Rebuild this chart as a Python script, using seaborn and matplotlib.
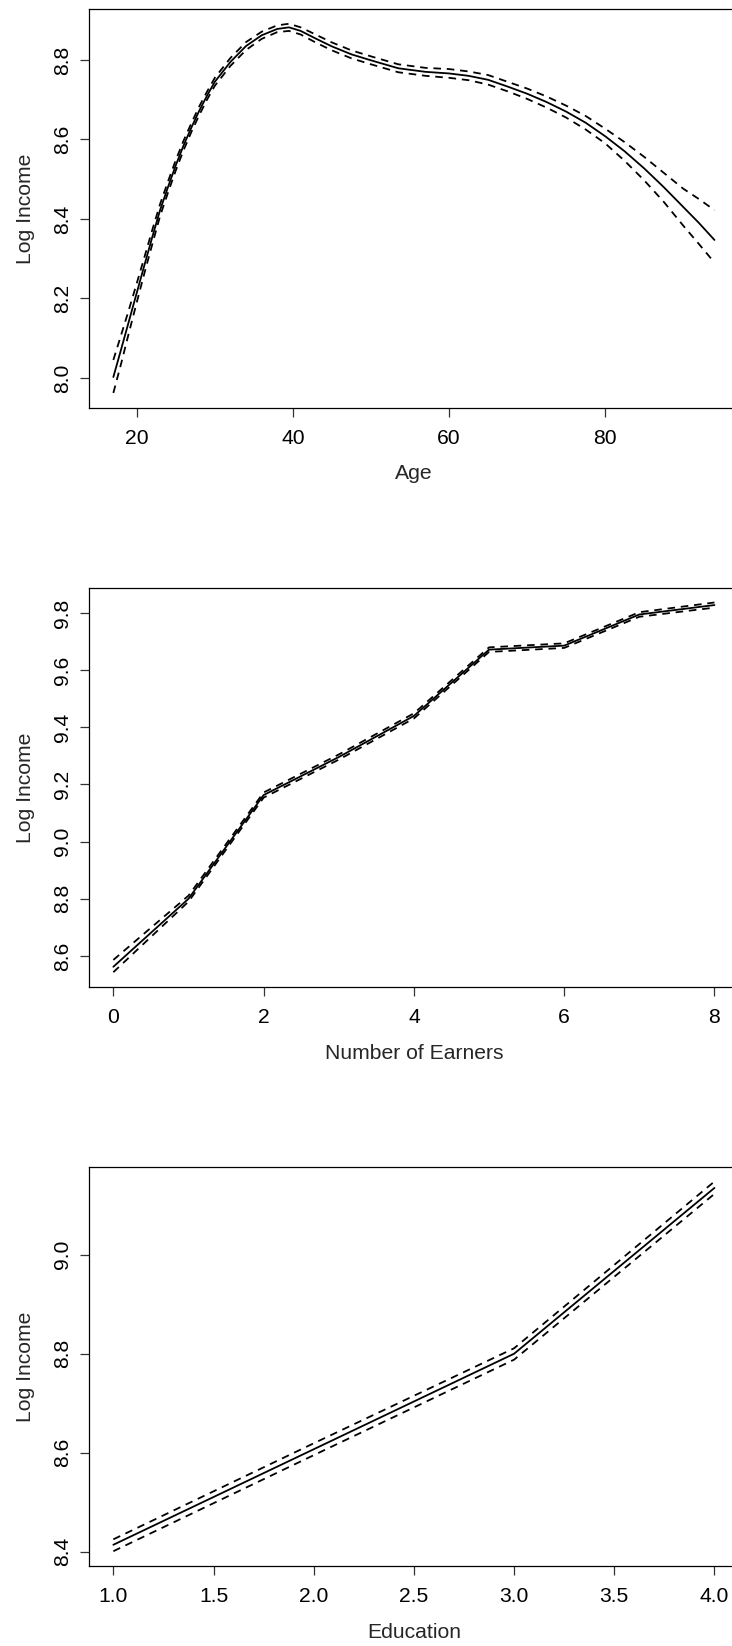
import numpy as np
import pandas as pd
import matplotlib
matplotlib.use("Agg")
import matplotlib.pyplot as plt
import seaborn as sns

# ---- Age effect ----------------------------------------------------------
age = [17, 18, 19, 20, 21, 22, 23, 24, 25, 26, 27, 28, 29, 30, 32, 34, 36,
       38, 39.5, 41, 43, 45, 47.5, 50, 53.5, 57, 60, 62.5, 65, 67.5, 70,
       72.5, 75, 77.5, 80, 82.5, 85, 87.5, 90, 92, 94]
age_fit = [8.002, 8.072, 8.143, 8.214, 8.285, 8.355, 8.423, 8.480, 8.535,
           8.585, 8.630, 8.672, 8.710, 8.745, 8.795, 8.835, 8.862, 8.878,
           8.882, 8.873, 8.853, 8.834, 8.814, 8.799, 8.779, 8.770, 8.766,
           8.760, 8.750, 8.733, 8.715, 8.694, 8.670, 8.642, 8.608, 8.570,
           8.527, 8.480, 8.430, 8.390, 8.347]
age_upper = [8.045, 8.108, 8.172, 8.238, 8.305, 8.373, 8.438, 8.494, 8.548,
             8.597, 8.641, 8.683, 8.720, 8.755, 8.805, 8.845, 8.871, 8.887,
             8.891, 8.882, 8.863, 8.844, 8.824, 8.809, 8.789, 8.780, 8.777,
             8.771, 8.762, 8.745, 8.728, 8.708, 8.685, 8.659, 8.627, 8.593,
             8.556, 8.516, 8.476, 8.450, 8.422]
age_lower = [7.962, 8.036, 8.114, 8.190, 8.265, 8.337, 8.408, 8.466, 8.522,
             8.573, 8.619, 8.661, 8.700, 8.735, 8.785, 8.825, 8.853, 8.870,
             8.873, 8.864, 8.843, 8.824, 8.804, 8.789, 8.769, 8.760, 8.755,
             8.749, 8.738, 8.721, 8.702, 8.680, 8.655, 8.625, 8.590, 8.546,
             8.497, 8.443, 8.383, 8.337, 8.290]

# ---- Number of earners effect -------------------------------------------
earners = [0, 1, 2, 3, 4, 5, 6, 7, 8]
earn_fit = [8.562, 8.800, 9.163, 9.296, 9.440, 9.672, 9.686, 9.795, 9.828]
earn_upper = [8.586, 8.811, 9.172, 9.305, 9.449, 9.680, 9.694, 9.803, 9.837]
earn_lower = [8.543, 8.790, 9.154, 9.287, 9.431, 9.664, 9.678, 9.787, 9.819]

# ---- Education effect ----------------------------------------------------
education = [1.0, 2.0, 3.0, 4.0]
edu_fit = [8.414, 8.607, 8.800, 9.135]
edu_upper = [8.425, 8.619, 8.811, 9.148]
edu_lower = [8.401, 8.595, 8.788, 9.123]

panels = [
    ("Age", age, age_fit, age_upper, age_lower,
     [20, 40, 60, 80], ["20", "40", "60", "80"],
     [8.0, 8.2, 8.4, 8.6, 8.8]),
    ("Number of Earners", earners, earn_fit, earn_upper, earn_lower,
     [0, 2, 4, 6, 8], ["0", "2", "4", "6", "8"],
     [8.6, 8.8, 9.0, 9.2, 9.4, 9.6, 9.8]),
    ("Education", education, edu_fit, edu_upper, edu_lower,
     [1.0, 1.5, 2.0, 2.5, 3.0, 3.5, 4.0],
     ["1.0", "1.5", "2.0", "2.5", "3.0", "3.5", "4.0"],
     [8.4, 8.6, 8.8, 9.0]),
]

sns.set_theme(style="ticks")
plt.rcParams["font.family"] = ["Liberation Sans", "DejaVu Sans"]
plt.rcParams["axes.linewidth"] = 0.9

FS = 15.2
W, H = 732, 1646
fig = plt.figure(figsize=(W / 100, H / 100), dpi=100)

# panel boxes in pixels: (top, bottom); left edge shared, right edge past the canvas
boxes = [(9.0, 407.7), (587.7, 987.0), (1166.7, 1566.0)]
left_px, right_px = 89.3, 738.5

for (xlabel, xs, fit, up, lo, xt, xtl, yt), (top, bot) in zip(panels, boxes):
    ax = fig.add_axes([left_px / W, 1 - bot / H,
                       (right_px - left_px) / W, (bot - top) / H])
    df = pd.DataFrame({
        "x": list(xs) * 3,
        "y": list(fit) + list(up) + list(lo),
        "band": ["fit"] * len(xs) + ["upper"] * len(xs) + ["lower"] * len(xs),
    })
    sns.lineplot(data=df, x="x", y="y", style="band",
                 dashes={"fit": "", "upper": (4.2, 3.2), "lower": (4.2, 3.2)},
                 color="black", lw=1.3, legend=False, ax=ax,
                 estimator=None, sort=False)

    # R-style 4% padding around the data range
    x0, x1 = min(xs), max(xs)
    dx = 0.04 * (x1 - x0)
    y0, y1 = min(lo), max(up)
    dy = 0.04 * (y1 - y0)
    ax.set_xlim(x0 - dx, x1 + dx)
    ax.set_ylim(y0 - dy, y1 + dy)

    ax.set_xticks(xt)
    ax.set_xticklabels(xtl)
    ax.set_yticks(yt)
    ax.set_yticklabels([f"{v:.1f}" for v in yt], rotation=90, va="center")
    ax.tick_params(axis="both", direction="out", length=6.7, width=0.9,
                   color="#333333", labelsize=FS, labelcolor="black")
    ax.tick_params(axis="x", pad=8.5)
    ax.tick_params(axis="y", pad=5.5)
    for s in ax.spines.values():
        s.set_visible(True)
        s.set_color("black")
        s.set_linewidth(0.9)
    ax.set_xlabel(xlabel, fontsize=FS, labelpad=12)
    ax.set_ylabel("Log Income", fontsize=FS, labelpad=13)
    ax.grid(False)

fig.savefig("out.png", dpi=100, facecolor="white")
